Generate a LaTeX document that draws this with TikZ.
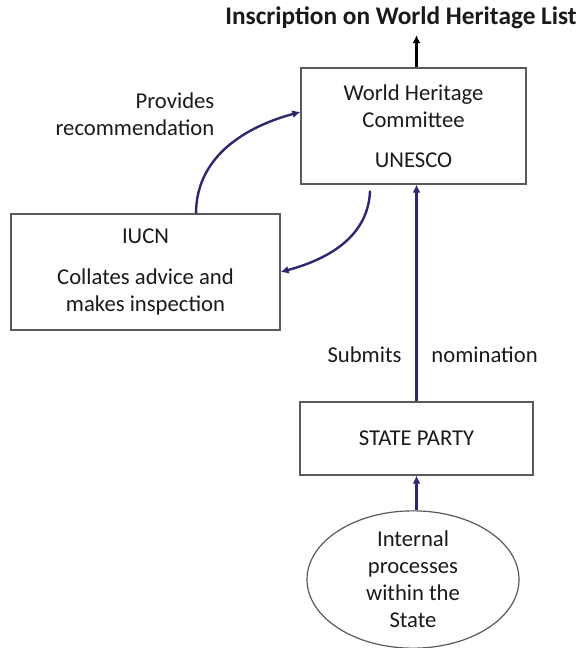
\documentclass[tikz,border=0pt]{standalone}
\usepackage{fontspec}
\setmainfont{Carlito}
\usetikzlibrary{arrows.meta,positioning,shapes.geometric,calc}
\definecolor{Ink}{HTML}{1A1A1A}
\definecolor{Frame}{HTML}{5A5A5A}
\definecolor{Navy}{HTML}{2B2870}
\tikzset{
  box/.style={draw=Frame,line width=0.9pt,align=center,text=Ink,inner sep=0pt,font=\fontsize{17}{20.3}\selectfont},
  oval/.style={box,ellipse},
  lbl/.style={text=Ink,align=center,font=\fontsize{17}{20.3}\selectfont},
  navyArrow/.style={-{Latex[length=6pt,width=6pt]},line width=1.8pt,draw=Navy},
  blackArrow/.style={-{Latex[length=6pt,width=6pt]},line width=1.8pt,draw=black}
}
\begin{document}
\begin{tikzpicture}[x=0.75pt,y=0.75pt]
\useasboundingbox (0,0) rectangle (586,-648);
% boxes
\node[box,minimum width=168.75pt,minimum height=87pt] (whc) at (413.5,-126) {World Heritage\\Committee\\[10pt]UNESCO};
\node[box,minimum width=201.75pt,minimum height=87pt] (iucn) at (145.5,-272) {IUCN\\[10pt]Collates advice and\\makes inspection};
\node[box,minimum width=174.75pt,minimum height=54.75pt] (state) at (416.5,-438.5) {STATE PARTY};
\node[oval,minimum width=159pt,minimum height=101.25pt] (internal) at (413,-579.5) {Internal\\processes\\within the\\State};
\node[lbl,font=\fontsize{19}{22}\selectfont\bfseries] (title) at (401,-18) {Inscription on World Heritage List};
\node[lbl,align=right,anchor=east] (prov) at (219,-114.5) {Provides\\recommendation};
% arrows
\draw[blackArrow] (whc.north -| state.north) -- ([yshift=-1pt]title.south -| state.north);
\draw[navyArrow] (state.north) -- (state.north |- whc.south)
  node[lbl,pos=0.216,left=7pt] {Submits}
  node[lbl,pos=0.216,right=7pt] {nomination};
\draw[navyArrow] (internal.north -| state.south) -- (state.south);
\draw[navyArrow] ([xshift=37.9pt]iucn.north) to[out=90,in=195] ([yshift=10.5pt]whc.west);
\draw[navyArrow] ([xshift=-32.6pt,yshift=-4.5pt]whc.south) to[out=-92,in=15] (iucn.east);
\end{tikzpicture}
\end{document}
